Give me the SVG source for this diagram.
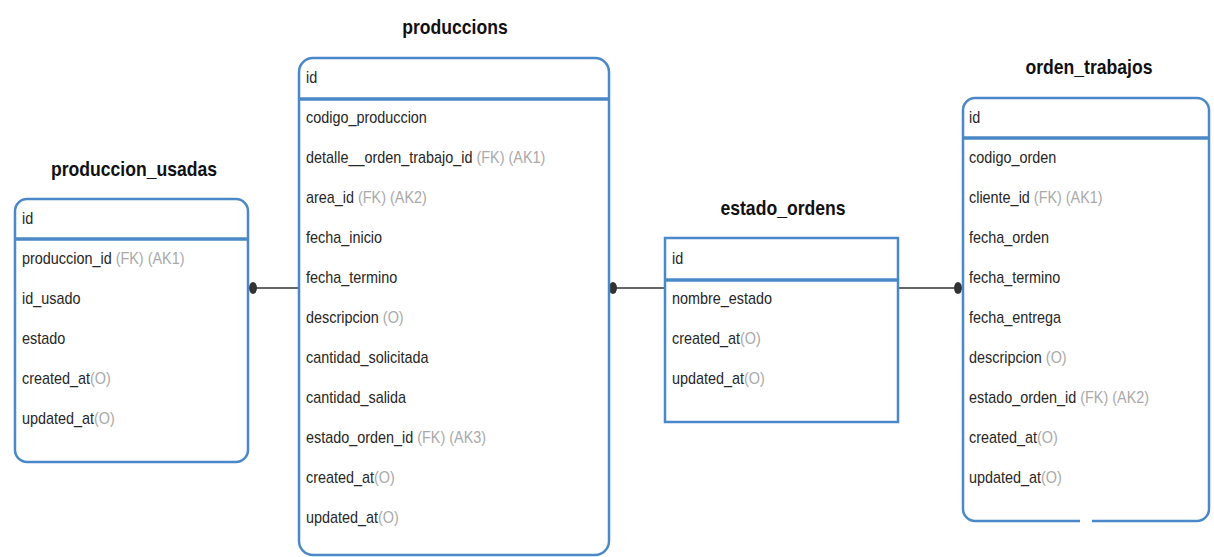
<svg xmlns="http://www.w3.org/2000/svg" width="1214" height="557" viewBox="0 0 1214 557">
<style>
.box{fill:#fff;stroke:#4a88c7;stroke-width:2.5}
.hdr{stroke:#4a88c7;stroke-width:3.5}
.t{font-family:"Liberation Sans",Arial,sans-serif;font-size:16px;fill:#262626}
.g{fill:#a9a9a9}
.ttl{font-family:"Liberation Sans",Arial,sans-serif;font-size:20px;font-weight:bold;fill:#111;text-anchor:middle}
.con{stroke:#666;stroke-width:2;fill:none}
.dot{fill:#333}
</style>
<rect width="1214" height="557" fill="#fff"/>
<g id="connectors">
<line class="con" x1="248" y1="288" x2="299" y2="288"/>
<ellipse class="dot" cx="253" cy="288" rx="4" ry="6"/>
<line class="con" x1="609" y1="288" x2="665" y2="288"/>
<ellipse class="dot" cx="613" cy="288" rx="4" ry="6"/>
<line class="con" x1="898" y1="288" x2="963" y2="288"/>
<ellipse class="dot" cx="958" cy="288" rx="4" ry="6"/>
</g>
<g id="produccion_usadas">
<g transform="translate(134 0) scale(0.88 1)"><text class="ttl" x="0" y="176">produccion_usadas</text></g>
<rect class="box" x="15" y="199" width="233" height="263" rx="12"/>
<line class="hdr" x1="15" y1="239" x2="248" y2="239"/>
<g transform="translate(22 0) scale(0.9 1)">
<text class="t" x="0" y="224">id</text>
<text class="t" x="0" y="264">produccion_id <tspan class="g">(FK) (AK1)</tspan></text>
<text class="t" x="0" y="304">id_usado</text>
<text class="t" x="0" y="344">estado</text>
<text class="t" x="0" y="384">created_at<tspan class="g">(O)</tspan></text>
<text class="t" x="0" y="424">updated_at<tspan class="g">(O)</tspan></text>
</g>
</g>
<g id="produccions">
<g transform="translate(455 0) scale(0.88 1)"><text class="ttl" x="0" y="34">produccions</text></g>
<rect class="box" x="299" y="58" width="310" height="497" rx="14"/>
<line class="hdr" x1="299" y1="99" x2="609" y2="99"/>
<g transform="translate(306 0) scale(0.9 1)">
<text class="t" x="0" y="83">id</text>
<text class="t" x="0" y="123">codigo_produccion</text>
<text class="t" x="0" y="163">detalle__orden_trabajo_id <tspan class="g">(FK) (AK1)</tspan></text>
<text class="t" x="0" y="203">area_id <tspan class="g">(FK) (AK2)</tspan></text>
<text class="t" x="0" y="243">fecha_inicio</text>
<text class="t" x="0" y="283">fecha_termino</text>
<text class="t" x="0" y="323">descripcion <tspan class="g">(O)</tspan></text>
<text class="t" x="0" y="363">cantidad_solicitada</text>
<text class="t" x="0" y="403">cantidad_salida</text>
<text class="t" x="0" y="443">estado_orden_id <tspan class="g">(FK) (AK3)</tspan></text>
<text class="t" x="0" y="483">created_at<tspan class="g">(O)</tspan></text>
<text class="t" x="0" y="523">updated_at<tspan class="g">(O)</tspan></text>
</g>
</g>
<g id="estado_ordens">
<g transform="translate(783 0) scale(0.88 1)"><text class="ttl" x="0" y="215">estado_ordens</text></g>
<rect class="box" x="665" y="238" width="233" height="184"/>
<line class="hdr" x1="665" y1="280" x2="898" y2="280"/>
<g transform="translate(672 0) scale(0.9 1)">
<text class="t" x="0" y="264">id</text>
<text class="t" x="0" y="304">nombre_estado</text>
<text class="t" x="0" y="344">created_at<tspan class="g">(O)</tspan></text>
<text class="t" x="0" y="384">updated_at<tspan class="g">(O)</tspan></text>
</g>
</g>
<g id="orden_trabajos">
<g transform="translate(1089 0) scale(0.88 1)"><text class="ttl" x="0" y="74">orden_trabajos</text></g>
<rect class="box" x="963" y="98" width="246" height="423" rx="12"/>
<line class="hdr" x1="963" y1="138" x2="1209" y2="138"/>
<rect x="1080" y="518" width="12" height="6" fill="#fff"/>
<g transform="translate(969 0) scale(0.9 1)">
<text class="t" x="0" y="123">id</text>
<text class="t" x="0" y="163">codigo_orden</text>
<text class="t" x="0" y="203">cliente_id <tspan class="g">(FK) (AK1)</tspan></text>
<text class="t" x="0" y="243">fecha_orden</text>
<text class="t" x="0" y="283">fecha_termino</text>
<text class="t" x="0" y="323">fecha_entrega</text>
<text class="t" x="0" y="363">descripcion <tspan class="g">(O)</tspan></text>
<text class="t" x="0" y="403">estado_orden_id <tspan class="g">(FK) (AK2)</tspan></text>
<text class="t" x="0" y="443">created_at<tspan class="g">(O)</tspan></text>
<text class="t" x="0" y="483">updated_at<tspan class="g">(O)</tspan></text>
</g>
</g>
</svg>
